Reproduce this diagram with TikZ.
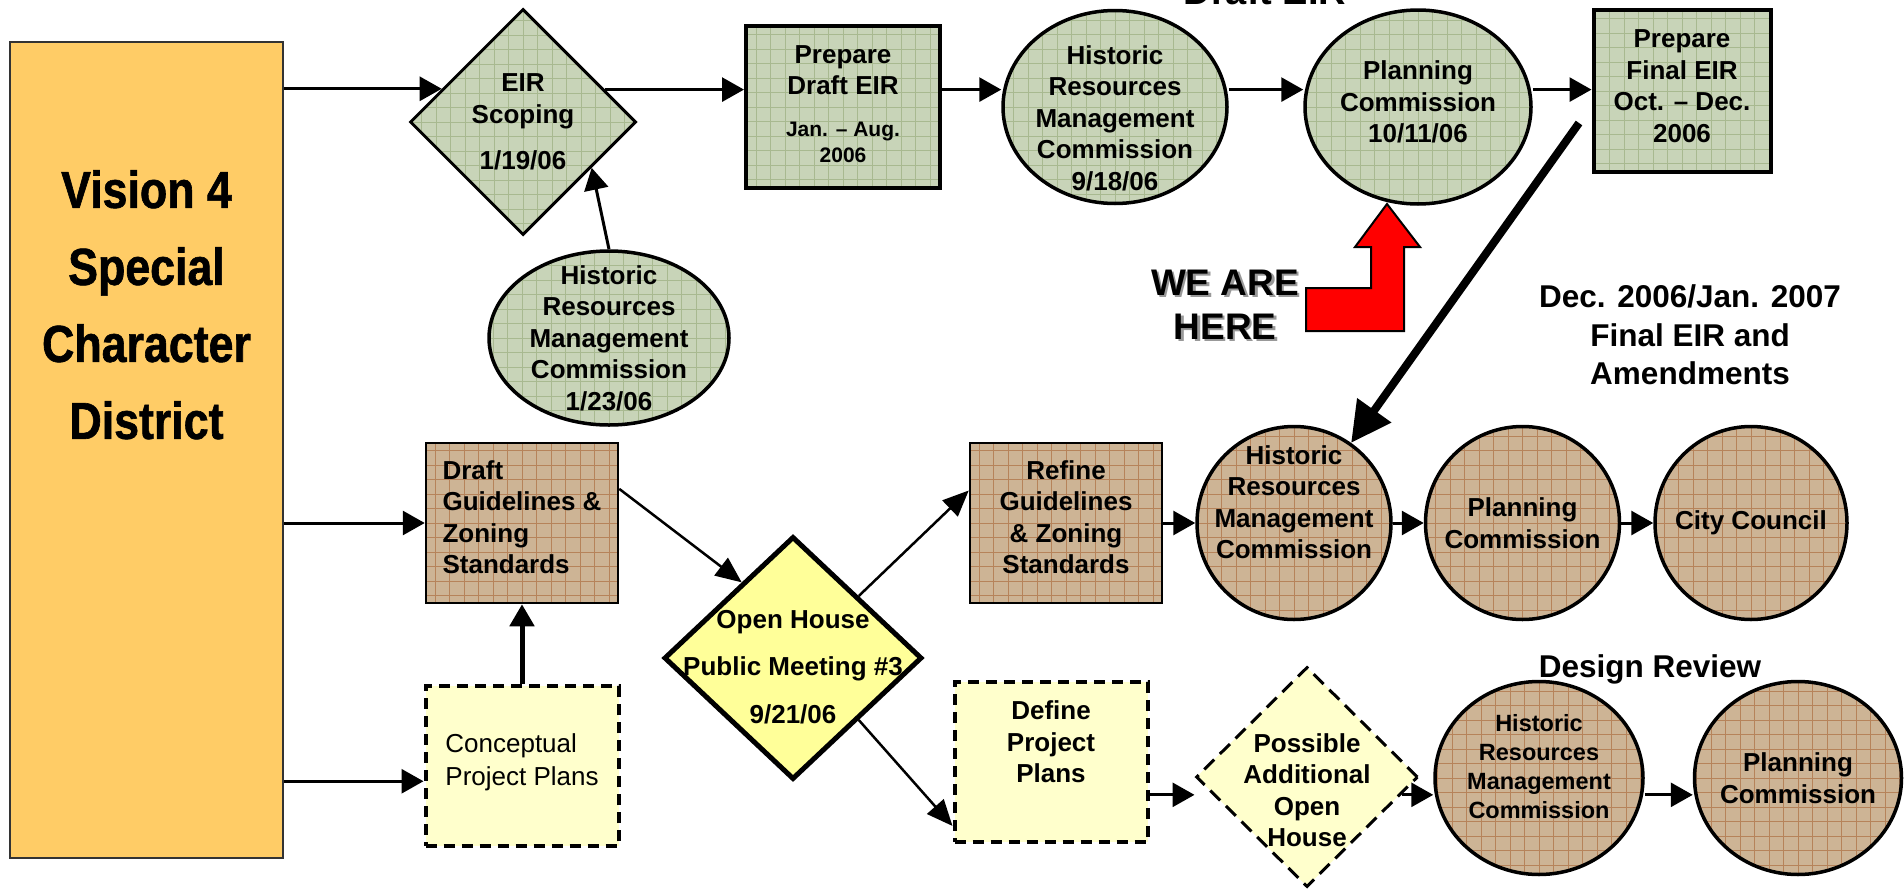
\documentclass[tikz,border=0pt]{standalone}
\usepackage{fontspec}
\setmainfont{Liberation Sans}
\newfontfamily\visionfont{Liberation Sans}[FakeStretch=0.86, FakeBold=1.2]
\usepackage{tikz}
\usetikzlibrary{shapes.geometric, arrows.meta, positioning, calc}

\definecolor{sage}{HTML}{C8D4B8}
\definecolor{sagegrid}{HTML}{A8B990}
\definecolor{tanfill}{HTML}{CDB495}
\definecolor{tangrid}{HTML}{B6835A}
\definecolor{visionfill}{HTML}{FFCC66}
\definecolor{openfill}{HTML}{FFFF99}
\definecolor{paleyellow}{HTML}{FFFFCC}

\newcommand{\boxfont}{\bfseries\fontsize{26}{31.5}\selectfont}
\newcommand{\smallfnt}{\fontsize{21}{26}\selectfont}
\newcommand{\dropshadow}[1]{\makebox[0pt][l]{\hspace{2.5pt}\raisebox{-2.5pt}{\textcolor{black!40}{#1}}}#1}

\begin{document}
\begin{tikzpicture}[
    x=1pt, y=-1pt,
    lbl/.style={align=center, font=\boxfont, inner sep=0pt},
    gridfill/.style={path picture={\draw[#1, line width=0.6pt, step=14.5pt] (path picture bounding box.south west) grid (path picture bounding box.north east);}},
    greenbox/.style={rectangle, draw, line width=4pt, fill=sage, gridfill=sagegrid},
    greenellipse/.style={ellipse, draw, line width=3.5pt, fill=sage, gridfill=sagegrid},
    tanbox/.style={rectangle, draw, line width=2.5pt, fill=tanfill, gridfill=tangrid, minimum width=192pt, minimum height=160pt},
    tanellipse/.style={ellipse, draw, line width=3.5pt, fill=tanfill, gridfill=tangrid, minimum width=194pt, minimum height=193pt},
    dashbox/.style={rectangle, draw, line width=4pt, dash pattern=on 11pt off 7pt, fill=paleyellow, minimum width=193pt, minimum height=160pt},
    arrow/.style={-{Triangle[length=22pt, width=24pt]}, line width=3pt},
    diagarrow/.style={-{Triangle[length=26pt, width=22pt]}, line width=2.5pt},
    bigarrow/.style={-{Triangle[length=40pt, width=40pt]}, line width=8pt},
]
\useasboundingbox (0,0) rectangle (1904,889);

% left column
\node[rectangle, draw=black!80, line width=2pt, fill=visionfill, minimum width=273pt, minimum height=816pt] (vision) at (146.5,450) {};
\node[below=129pt of vision.north, inner sep=0pt, align=center, font=\visionfont\bfseries\fontsize{52}{77}\selectfont] (visiontxt) {Vision 4\\Special\\Character\\District};

% EIR row
\node[diamond, draw, line width=3pt, fill=sage, gridfill=sagegrid, minimum width=226pt, minimum height=226pt,
      label={[lbl]center:EIR\\Scoping\\[15pt]1/19/06}] (scoping) at (523,122) {};
\node[greenbox, minimum width=194pt, minimum height=162pt,
      label={[lbl, yshift=3pt]center:Prepare\\Draft EIR\\[10.5pt]\smallfnt Jan. – Aug.\\[-5.5pt]\smallfnt 2006}] (draftEIR) at (843,107) {};
\node[greenellipse, minimum width=224pt, minimum height=193pt,
      label={[lbl, yshift=-11pt]center:Historic\\Resources\\Management\\Commission\\9/18/06}] (hrmcA) at (1115,107) {};
\node[greenellipse, minimum width=226pt, minimum height=194pt,
      label={[lbl, yshift=5pt]center:Planning\\Commission\\10/11/06}] (pcA) at (1418,107) {};
\node[greenbox, minimum width=177pt, minimum height=162pt,
      label={[lbl, yshift=5pt]center:Prepare\\Final EIR\\Oct. – Dec.\\2006}] (finalEIR) at (1682,91) {};
\node[greenellipse, minimum width=240pt, minimum height=174pt,
      label={[lbl]center:Historic\\Resources\\Management\\Commission\\1/23/06}] (hrmcB) at (609,338) {};

\node[anchor=base, font=\bfseries\fontsize{38}{44}\selectfont] (drafttitle) at (1265,4) {Draft EIR};
\node[align=center, font=\bfseries\fontsize{37}{44}\selectfont] (here) at (1225,306) {\dropshadow{WE ARE}\\\dropshadow{HERE}};
\node[align=center, font=\bfseries\fontsize{31.5}{38.5}\selectfont] (finalnote) at (1690,335) {Dec. 2006/Jan. 2007\\Final EIR and\\Amendments};
\node[font=\bfseries\fontsize{31.5}{38}\selectfont] (designreview) at (1650,669) {Design Review};

% guidelines row
\node[tanbox, label={[lbl, align=left, yshift=6pt]center:Draft\\Guidelines \&\\Zoning\\Standards}] (draftGuide) at (522,523) {};
\node[dashbox, below=80pt of draftGuide,
      label={[lbl, align=left, yshift=4pt, font=\fontsize{26}{33}\selectfont]center:Conceptual\\Project Plans}] (concept) {};
\node[diamond, draw, line width=5pt, fill=openfill, minimum width=258pt, minimum height=243pt,
      label={[lbl, yshift=-9pt]center:Open House\\[16pt]Public Meeting \#3\\[16pt]9/21/06}] (openHouse) at (793,658) {};
\node[tanbox, label={[lbl, yshift=6pt]center:Refine\\Guidelines\\\& Zoning\\Standards}] (refine) at (1066,523) {};
\node[dashbox, label={[lbl, yshift=20pt]center:Define\\Project\\Plans}] (define) at (1051,762) {};
\node[tanellipse, right=32pt of refine, label={[lbl, yshift=21pt]center:Historic\\Resources\\Management\\Commission}] (hrmcC) {};
\node[tanellipse, right=31pt of hrmcC, label={[lbl]center:Planning\\Commission}] (pcB) {};
\node[tanellipse, right=32pt of pcB, minimum width=192pt, label={[lbl]center:City Council}] (council) {};

% design review row
\node[diamond, draw, line width=3pt, dash pattern=on 14pt off 8pt, fill=paleyellow, minimum width=222pt, minimum height=220pt,
      label={[lbl, yshift=-13pt]center:Possible\\Additional\\Open\\House}] (possible) at (1307,777) {};
\node[tanellipse, minimum width=208pt,
      label={[lbl, yshift=11pt, font=\bfseries\fontsize{23.5}{29}\selectfont]center:Historic\\Resources\\Management\\Commission}] (hrmcD) at (1539,778) {};
\node[tanellipse, right=48pt of hrmcD, minimum width=207pt, label={[lbl]center:Planning\\Commission}] (pcC) {};

% you are here marker
\draw[fill=red, line width=2pt] (1306,288) -- (1371,288) -- (1371,247) -- (1355,247) -- (1387,204)
   -- (1420,247) -- (1404,247) -- (1404,331) -- (1306,331) -- cycle;

% connector end points
\coordinate (scIn) at ($(scoping.west)!0.29!(scoping.north)$);
\coordinate (scOut) at ($(scoping.north)!0.717!(scoping.east)$);
\coordinate (scLow) at ($(scoping.east)!0.4!(scoping.south)$);
\coordinate (conIn) at ($(concept.west)+(0,15)$);
\coordinate (dgOut) at ($(draftGuide.north east)!0.29!(draftGuide.south east)$);
\coordinate (ohIn) at ($(openHouse.west)!0.61!(openHouse.north)$);
\coordinate (ohUp) at ($(openHouse.north)!0.5!(openHouse.east)$);
\coordinate (ohDown) at ($(openHouse.east)!0.5!(openHouse.south)$);
\coordinate (rfIn) at ($(refine.north west)!0.3!(refine.south west)$);
\coordinate (dfIn) at ($(define.north west)!0.89!(define.south west)$);
\coordinate (posOut) at ($(possible.east)!0.16!(possible.south)$);
\coordinate (finalStart) at (1579,123);

\draw[arrow] (vision.east |- scIn) -- (scIn);
\draw[arrow] (scOut) -- (scOut -| draftEIR.west);
\draw[arrow] (draftEIR.east |- scOut) -- (hrmcA.west |- scOut);
\draw[arrow] (hrmcA.east |- scOut) -- (pcA.west |- scOut);
\draw[arrow] (pcA.east |- scOut) -- (finalEIR.west |- scOut);
\draw[arrow] (hrmcB.north) -- (scLow);

\draw[arrow] (vision.east |- draftGuide.west) -- (draftGuide.west);
\draw[arrow] (vision.east |- conIn) -- (conIn);
\draw[arrow, line width=5pt] (concept.north) -- (draftGuide.south);
\draw[diagarrow] (dgOut) -- (ohIn);
\draw[diagarrow] (ohUp) -- (rfIn);
\draw[diagarrow] (ohDown) -- (dfIn);
\draw[arrow] (refine) -- (hrmcC);
\draw[arrow] (hrmcC) -- (pcB);
\draw[arrow] (pcB) -- (council);
\draw[bigarrow] (finalStart) -- (hrmcC);

\draw[arrow] (define.east |- posOut) -- (possible.west |- posOut);
\draw[arrow] (posOut) -- (posOut -| hrmcD.west);
\draw[arrow] (hrmcD.east |- posOut) -- (pcC.west |- posOut);
\end{tikzpicture}
\end{document}
